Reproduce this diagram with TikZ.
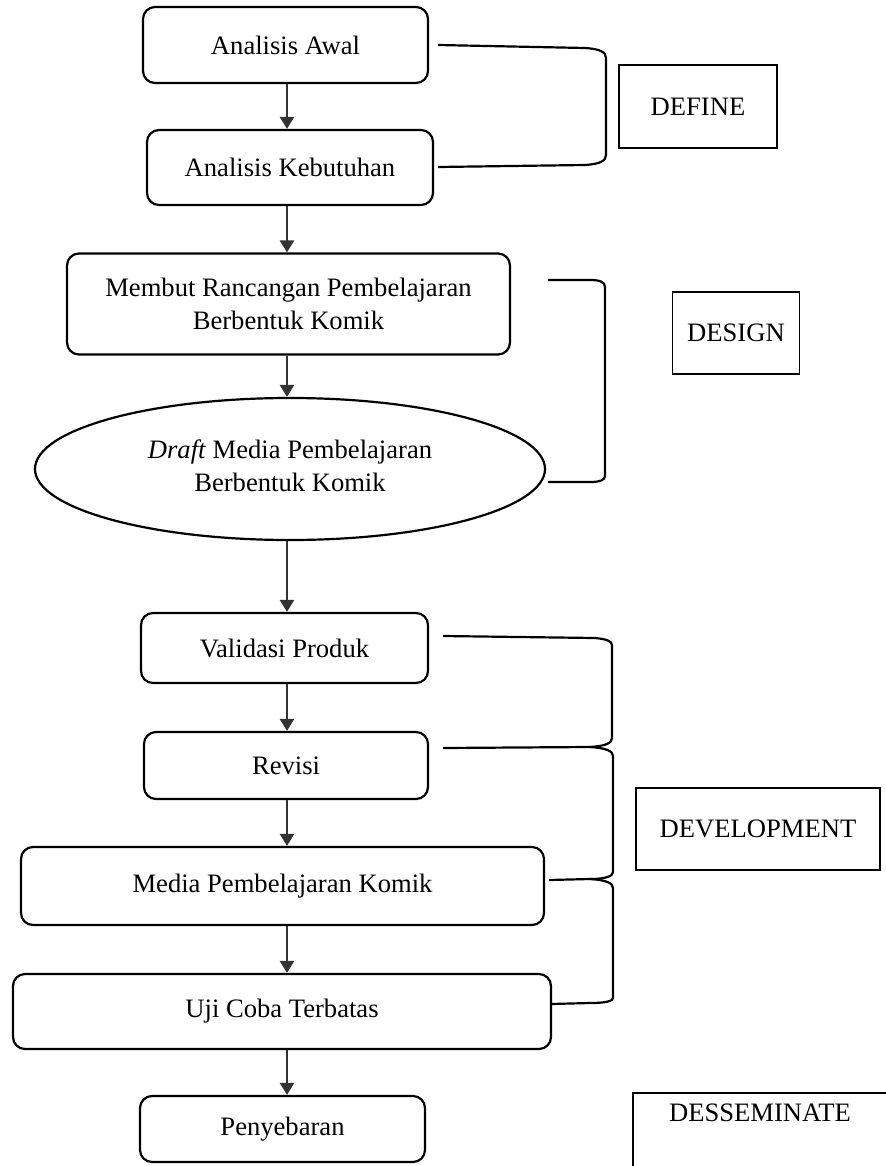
\documentclass[tikz,border=0pt]{standalone}
\usepackage{fontspec}
\setmainfont{Liberation Serif}
\usetikzlibrary{arrows.meta,shapes.geometric}
\begin{document}
\begin{tikzpicture}[x=0.5pt,y=-0.5pt,
  txt/.style={font=\fontsize{13.3}{16.5}\selectfont,align=center},
  rbox/.style={txt,draw,line width=1.1pt,rounded corners=6pt,inner sep=0pt},
  ovalbox/.style={txt,draw,line width=1.1pt,ellipse,inner sep=0pt},
  phase/.style={txt,draw,line width=0.8pt,inner sep=0pt},
  arr/.style={draw=black!80,line width=1.3pt,-{Triangle[width=7pt,length=6pt]}},
  brk/.style={draw,line width=1.1pt}]
\useasboundingbox (0,0) rectangle (886,1166);
% main nodes
\node[rbox,minimum width=142.5pt,minimum height=38pt] (awal) at (285.5,45) {Analisis Awal};
\node[rbox,minimum width=143pt,minimum height=37.5pt] (keb) at (290,167.5) {Analisis Kebutuhan};
\node[rbox,minimum width=221.5pt,minimum height=50.5pt] (rancang) at (288.5,304) {Membut Rancangan Pembelajaran\\Berbentuk Komik};
\node[ovalbox,minimum width=255pt,minimum height=71pt] (draft) at (290,469) {};
\node[txt] (drafttxt) at (290,466) {\textit{Draft} Media Pembelajaran\\Berbentuk Komik};
\node[rbox,minimum width=143.5pt,minimum height=35pt] (valid) at (284.5,648) {Validasi Produk};
\node[rbox,minimum width=142pt,minimum height=33.5pt] (revisi) at (286,765.5) {Revisi};
\node[rbox,minimum width=261.5pt,minimum height=39pt] (media) at (282.5,886) {Media Pembelajaran Komik};
\node[rbox,minimum width=269pt,minimum height=37.5pt] (uji) at (282,1011.5) {Uji Coba Terbatas};
\node[rbox,minimum width=142.5pt,minimum height=33pt] (sebar) at (282.5,1129) {Penyebaran};
% arrows
\coordinate (ax) at (287,0);
\draw[arr] (awal.south -| ax) -- (keb.north -| ax);
\draw[arr] (keb.south -| ax) -- (rancang.north -| ax);
\draw[arr] (rancang.south -| ax) -- (draft.north -| ax);
\draw[arr] (draft.south -| ax) -- (valid.north -| ax);
\draw[arr] (valid.south -| ax) -- (revisi.north -| ax);
\draw[arr] (revisi.south -| ax) -- (media.north -| ax);
\draw[arr] (media.south -| ax) -- (uji.north -| ax);
\draw[arr] (uji.south -| ax) -- (sebar.north -| ax);
% phase boxes
\node[phase,minimum width=79pt,minimum height=41.5pt] (define) at (698,106.5) {DEFINE};
\node[phase,minimum width=63.5pt,minimum height=41pt] (design) at (736,333) {DESIGN};
\node[phase,minimum width=122pt,minimum height=41pt] (develop) at (758,829) {DEVELOPMENT};
\draw[line width=0.8pt] (633,1170) -- (633,1093) -- (890,1093);
\node[txt] (dissem) at (760,1113) {DESSEMINATE};
% brackets
\draw[brk] (438,45) -- (585,48) .. controls (600,49) and (606,52) .. (606,58) -- (606,155)
  .. controls (606,161) and (600,164) .. (585,165) -- (438,167);
\draw[brk] (548,280) -- (590,280) .. controls (600,280) and (605,282) .. (605,287) -- (605,476)
  .. controls (605,480) and (600,482) .. (590,482) -- (548,482);
\draw[brk] (443,636) -- (595,638) .. controls (606,639) and (612,641) .. (612,645) -- (612,738)
  .. controls (612,743) and (606,746) .. (590,747) -- (443,748);
\draw[brk] (590,747) .. controls (606,748) and (613,751) .. (613,756) -- (613,872)
  .. controls (613,876) and (606,879) .. (590,879) -- (549,880);
\draw[brk] (590,879) .. controls (606,880) and (613,883) .. (613,888) -- (613,998)
  .. controls (613,1001) and (606,1003) .. (590,1003) -- (551,1004);
\end{tikzpicture}
\end{document}
